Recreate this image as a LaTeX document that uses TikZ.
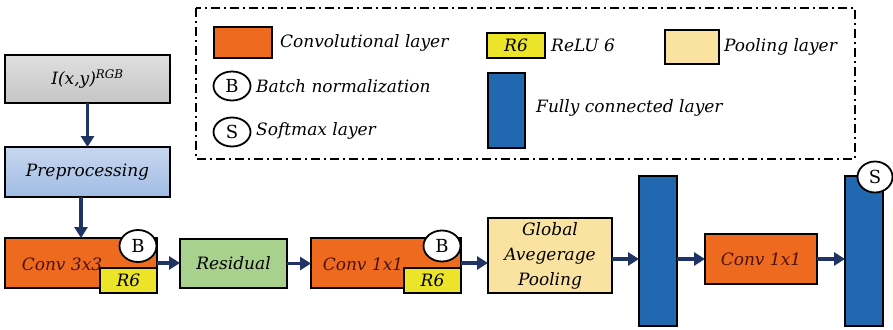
\documentclass[tikz,border=0pt]{standalone}
\usepackage{fontspec}
\setmainfont{DejaVu Serif}
\usetikzlibrary{arrows.meta,shapes.geometric}
\definecolor{convor}{RGB}{238,106,30}
\definecolor{convtx}{RGB}{75,18,18}
\definecolor{relu}{RGB}{236,228,40}
\definecolor{resg}{RGB}{169,209,142}
\definecolor{poolc}{RGB}{250,226,160}
\definecolor{fcb}{RGB}{33,104,176}
\definecolor{arrc}{RGB}{31,52,100}
\definecolor{pretop}{RGB}{200,215,240}
\definecolor{prebot}{RGB}{160,188,228}
\begin{document}
\begin{tikzpicture}[x=1pt,y=-1pt,
  font=\fontsize{17}{22}\selectfont\itshape,
  box/.style={draw=black,line width=1.8pt,inner sep=0pt,outer sep=0pt},
  convbox/.style={box,fill=convor,text=convtx},
  relubox/.style={box,fill=relu,minimum width=57pt,minimum height=25pt},
  fcbox/.style={box,fill=fcb,minimum width=38pt,minimum height=150pt},
  circ/.style={ellipse,draw=black,line width=1.8pt,fill=white,inner sep=0pt,font=\fontsize{18}{22}\selectfont\upshape},
  arr/.style={draw=arrc,line width=3.2pt,-{Triangle[length=11pt,width=13pt]}},
  leg/.style={anchor=west,inner sep=0pt}]
\useasboundingbox (0,0) rectangle (893,329);
% legend frame
\draw[line width=2pt,dash pattern=on 9pt off 4pt on 2pt off 4pt] (196,8) rectangle (855,159);
\node[convbox,minimum width=58pt,minimum height=31pt] (lconv) at (243,42.5) {};
\node[leg] (lconvt) at (280,43) {Convolutional layer};
\node[circ,minimum width=37pt,minimum height=29pt] (lb) at (232,86) {B};
\node[leg] (lbt) at (256,86) {Batch normalization};
\node[circ,minimum width=37pt,minimum height=29pt] (ls) at (232,132) {S};
\node[leg] (lst) at (256,131) {Softmax layer};
\node[relubox,minimum width=58pt] (lr) at (516,45.5) {R6};
\node[leg] (lrt) at (551,45) {ReLU 6};
\node[box,fill=poolc,minimum width=54pt,minimum height=34pt] (lp) at (692,47) {};
\node[leg] (lpt) at (724,47) {Pooling layer};
\node[box,fill=fcb,minimum width=37pt,minimum height=75pt] (lf) at (506.5,110.5) {};
\node[leg] (lft) at (536,108) {Fully connected layer};
% main flow
\node[box,top color=gray!25,bottom color=gray!45,minimum width=165pt,minimum height=48pt] (in) at (87.5,79) {I(x,y)\textsuperscript{RGB}};
\node[box,top color=pretop,bottom color=prebot,minimum width=165pt,minimum height=50pt] (pre) at (87.5,172) {Preprocessing};
\node[convbox,minimum width=152pt,minimum height=50pt] (c1) at (81,263) {};
\node[text=convtx,inner sep=0pt] (c1t) at (62,264) {Conv 3x3};
\node[relubox] (r1) at (128.5,280.5) {R6};
\node[circ,minimum width=37pt,minimum height=32pt] (b1) at (138,246) {B};
\node[box,fill=resg,minimum width=107pt,minimum height=49pt] (res) at (233.5,263.5) {Residual};
\node[convbox,minimum width=150pt,minimum height=50pt] (c2) at (386,263) {};
\node[text=convtx,inner sep=0pt] (c2t) at (363,264) {Conv 1x1};
\node[relubox] (r2) at (432.5,280.5) {R6};
\node[circ,minimum width=37pt,minimum height=31pt] (b2) at (442,246) {B};
\node[box,fill=poolc,minimum width=124pt,minimum height=75pt,align=center,font=\fontsize{17}{25}\selectfont\itshape] (gap) at (550,255.5) {Global\\Avegerage\\Pooling};
\node[fcbox] (fc1) at (658,251) {};
\node[convbox,minimum width=112pt,minimum height=50pt] (c3) at (761,259) {Conv 1x1};
\node[fcbox] (fc2) at (864,251) {};
\node[circ,minimum width=35pt,minimum height=31pt] (s) at (875,177) {S};
% arrows
\draw[arr] (in.south) -- (pre.north);
\draw[arr] (pre.south -| c1.north) -- (c1.north);
\draw[arr] (c1.east) -- (c1.east -| res.west);
\draw[arr] (res.east) -- (res.east -| c2.west);
\draw[arr] (c2.east) -- (c2.east -| gap.west);
\draw[arr] (gap.east |- c3.west) -- (fc1.west |- c3.west);
\draw[arr] (fc1.east |- c3.west) -- (c3.west);
\draw[arr] (c3.east) -- (c3.east -| fc2.west);
\end{tikzpicture}
\end{document}
